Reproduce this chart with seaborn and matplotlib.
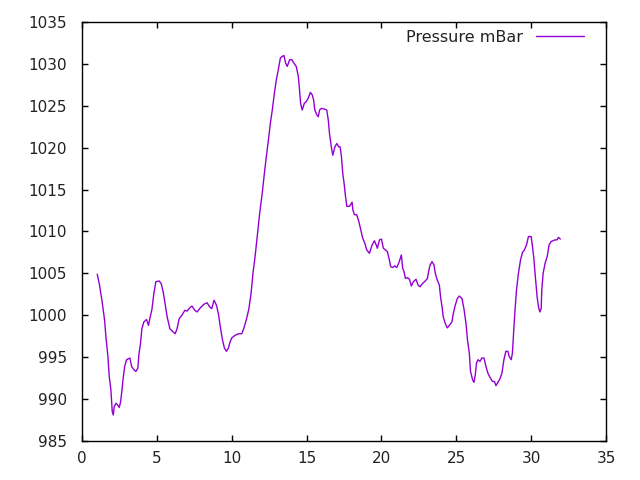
import matplotlib
matplotlib.use("Agg")
import matplotlib.pyplot as plt
import seaborn as sns
import pandas as pd

day = [1.02, 1.15, 1.33, 1.51, 1.6, 1.73, 1.82, 1.93, 2.02, 2.09, 2.15, 2.27, 2.38, 2.49, 2.58,
       2.67, 2.75, 2.85, 2.98, 3.2, 3.31, 3.47, 3.6, 3.73, 3.8, 3.91, 4.0, 4.13, 4.31, 4.44,
       4.53, 4.67, 4.8, 4.93, 5.15, 5.29, 5.42, 5.55, 5.69, 5.87, 6.09, 6.22, 6.35, 6.49,
       6.67, 6.87, 7.02, 7.2, 7.35, 7.53, 7.69, 7.91, 8.13, 8.35, 8.53, 8.67, 8.82, 8.98,
       9.11, 9.24, 9.38, 9.51, 9.65, 9.78, 9.87, 10.0, 10.22, 10.45, 10.67, 10.8, 10.98,
       11.15, 11.29, 11.42, 11.56, 11.73, 11.87, 12.04, 12.18, 12.31, 12.45, 12.58, 12.71,
       12.85, 12.98, 13.11, 13.25, 13.38, 13.49, 13.6, 13.71, 13.87, 14.02, 14.15, 14.31,
       14.45, 14.53, 14.6, 14.71, 14.85, 14.98, 15.11, 15.25, 15.38, 15.47, 15.55, 15.69,
       15.78, 15.87, 16.0, 16.2, 16.35, 16.45, 16.53, 16.65, 16.75, 16.89, 17.02, 17.15,
       17.24, 17.33, 17.42, 17.51, 17.6, 17.69, 17.87, 18.04, 18.09, 18.2, 18.35, 18.49,
       18.62, 18.75, 18.89, 19.02, 19.2, 19.38, 19.53, 19.65, 19.73, 19.87, 20.0, 20.13,
       20.27, 20.4, 20.53, 20.62, 20.75, 20.89, 21.02, 21.15, 21.33, 21.42, 21.51, 21.6,
       21.73, 21.87, 22.0, 22.13, 22.31, 22.45, 22.58, 22.75, 22.93, 23.07, 23.15, 23.25,
       23.38, 23.51, 23.6, 23.73, 23.87, 23.95, 24.05, 24.13, 24.27, 24.4, 24.53, 24.71,
       24.8, 24.93, 25.07, 25.2, 25.38, 25.51, 25.65, 25.75, 25.87, 25.95, 26.09, 26.18,
       26.27, 26.35, 26.45, 26.58, 26.71, 26.85, 26.98, 27.11, 27.25, 27.42, 27.55, 27.65,
       27.78, 27.91, 28.05, 28.18, 28.31, 28.45, 28.53, 28.67, 28.75, 28.85, 28.93, 29.02,
       29.15, 29.29, 29.42, 29.55, 29.69, 29.82, 30.0, 30.09, 30.18, 30.27, 30.4, 30.49,
       30.58, 30.67, 30.71, 30.8, 30.93, 31.07, 31.2, 31.33, 31.47, 31.6, 31.73, 31.82, 31.95]

pressure = [1004.9, 1003.8, 1001.8, 999.4, 997.4, 995.1, 992.7, 991.1, 988.5, 988.1, 989.1,
            989.5, 989.3, 989.0, 989.7, 991.1, 992.5, 993.9, 994.7, 994.9, 993.9, 993.5,
            993.3, 993.7, 995.3, 996.7, 998.4, 999.2, 999.5, 998.8, 999.6, 1000.7, 1002.6,
            1004.0, 1004.1, 1003.8, 1002.8, 1001.4, 999.8, 998.4, 998.0, 997.8, 998.4, 999.6,
            1000.0, 1000.6, 1000.5, 1000.9, 1001.1, 1000.6, 1000.4, 1000.9, 1001.3, 1001.5,
            1001.0, 1000.8, 1001.8, 1001.2, 1000.2, 998.6, 997.1, 996.1, 995.7, 996.1, 996.7,
            997.3, 997.6, 997.8, 997.8, 998.4, 999.5, 1000.8, 1002.6, 1005.0, 1007.0, 1009.8,
            1012.2, 1014.6, 1016.9, 1018.9, 1020.9, 1022.9, 1024.5, 1026.5, 1028.1, 1029.3,
            1030.7, 1030.9, 1031.0, 1030.1, 1029.7, 1030.5, 1030.5, 1030.1, 1029.7, 1028.5,
            1026.9, 1025.3, 1024.5, 1025.3, 1025.5, 1025.9, 1026.6, 1026.3, 1025.7, 1024.5,
            1023.9, 1023.7, 1024.5, 1024.7, 1024.6, 1024.5, 1023.3, 1021.7, 1020.1, 1019.1,
            1020.1, 1020.5, 1020.1, 1020.1, 1018.9, 1016.9, 1015.7, 1014.2, 1013.0, 1013.0,
            1013.5, 1012.6, 1012.0, 1012.0, 1011.2, 1010.2, 1009.2, 1008.6, 1007.8, 1007.4,
            1008.4, 1008.9, 1008.4, 1008.0, 1009.0, 1009.1, 1008.0, 1007.8, 1007.6, 1006.6,
            1005.8, 1005.7, 1005.9, 1005.7, 1006.2, 1007.2, 1005.6, 1005.2, 1004.4, 1004.5,
            1004.3, 1003.5, 1004.0, 1004.3, 1003.6, 1003.4, 1003.8, 1004.1, 1004.4, 1005.2,
            1006.0, 1006.4, 1006.0, 1005.0, 1004.2, 1003.6, 1002.2, 1001.0, 999.8, 999.0,
            998.5, 998.8, 999.2, 1000.2, 1001.2, 1002.0, 1002.3, 1002.0, 1000.8, 999.0, 997.0,
            995.5, 993.3, 992.3, 992.0, 992.9, 994.3, 994.7, 994.5, 994.9, 994.9, 993.9,
            993.1, 992.6, 992.1, 992.1, 991.6, 992.0, 992.4, 993.1, 994.7, 995.7, 995.7,
            995.1, 994.7, 995.5, 998.6, 1000.8, 1003.0, 1005.0, 1006.6, 1007.5, 1007.8,
            1008.4, 1009.4, 1009.4, 1008.2, 1006.8, 1004.8, 1002.2, 1001.0, 1000.4, 1000.8,
            1003.0, 1005.0, 1006.2, 1007.0, 1008.4, 1008.8, 1008.9, 1009.0, 1009.0, 1009.3,
            1009.1]

x_ticks = [0, 5, 10, 15, 20, 25, 30, 35]
y_ticks = [985, 990, 995, 1000, 1005, 1010, 1015, 1020, 1025, 1030, 1035]
series_label = "Pressure mBar"

sns.set_style("white")
plt.rcParams["font.family"] = ["DejaVu Sans"]

df = pd.DataFrame({"day": day, "pressure": pressure})

fig = plt.figure(figsize=(6.4, 4.8), dpi=100)
ax = fig.add_axes([82 / 640, 1 - 441 / 480, (606 - 82) / 640, (441 - 22) / 480])

sns.lineplot(data=df, x="day", y="pressure", ax=ax, color="#9400D3", linewidth=1.0,
             estimator=None, sort=False, label=series_label)

ax.set_xlim(0, 35)
ax.set_ylim(985, 1035)
ax.set_xticks(x_ticks)
ax.set_yticks(y_ticks)
ax.set_xlabel("")
ax.set_ylabel("")
for s in ax.spines.values():
    s.set_color("black")
    s.set_linewidth(1.0)
ax.tick_params(direction="in", length=4, width=1, color="black",
               top=True, right=True, bottom=True, left=True,
               labelsize=11, labelcolor="#222222")
ax.tick_params(axis="x", pad=7)
ax.tick_params(axis="y", pad=11)

leg = ax.legend(loc="center right", bbox_to_anchor=(584 / 640, 1 - 37 / 480),
                bbox_transform=fig.transFigure, frameon=False, markerfirst=False,
                fontsize=11.5, handlelength=3.0, handletextpad=0.8, borderpad=0,
                borderaxespad=0)
for t in leg.get_texts():
    t.set_color("#222222")

fig.savefig("out.png", dpi=100)
